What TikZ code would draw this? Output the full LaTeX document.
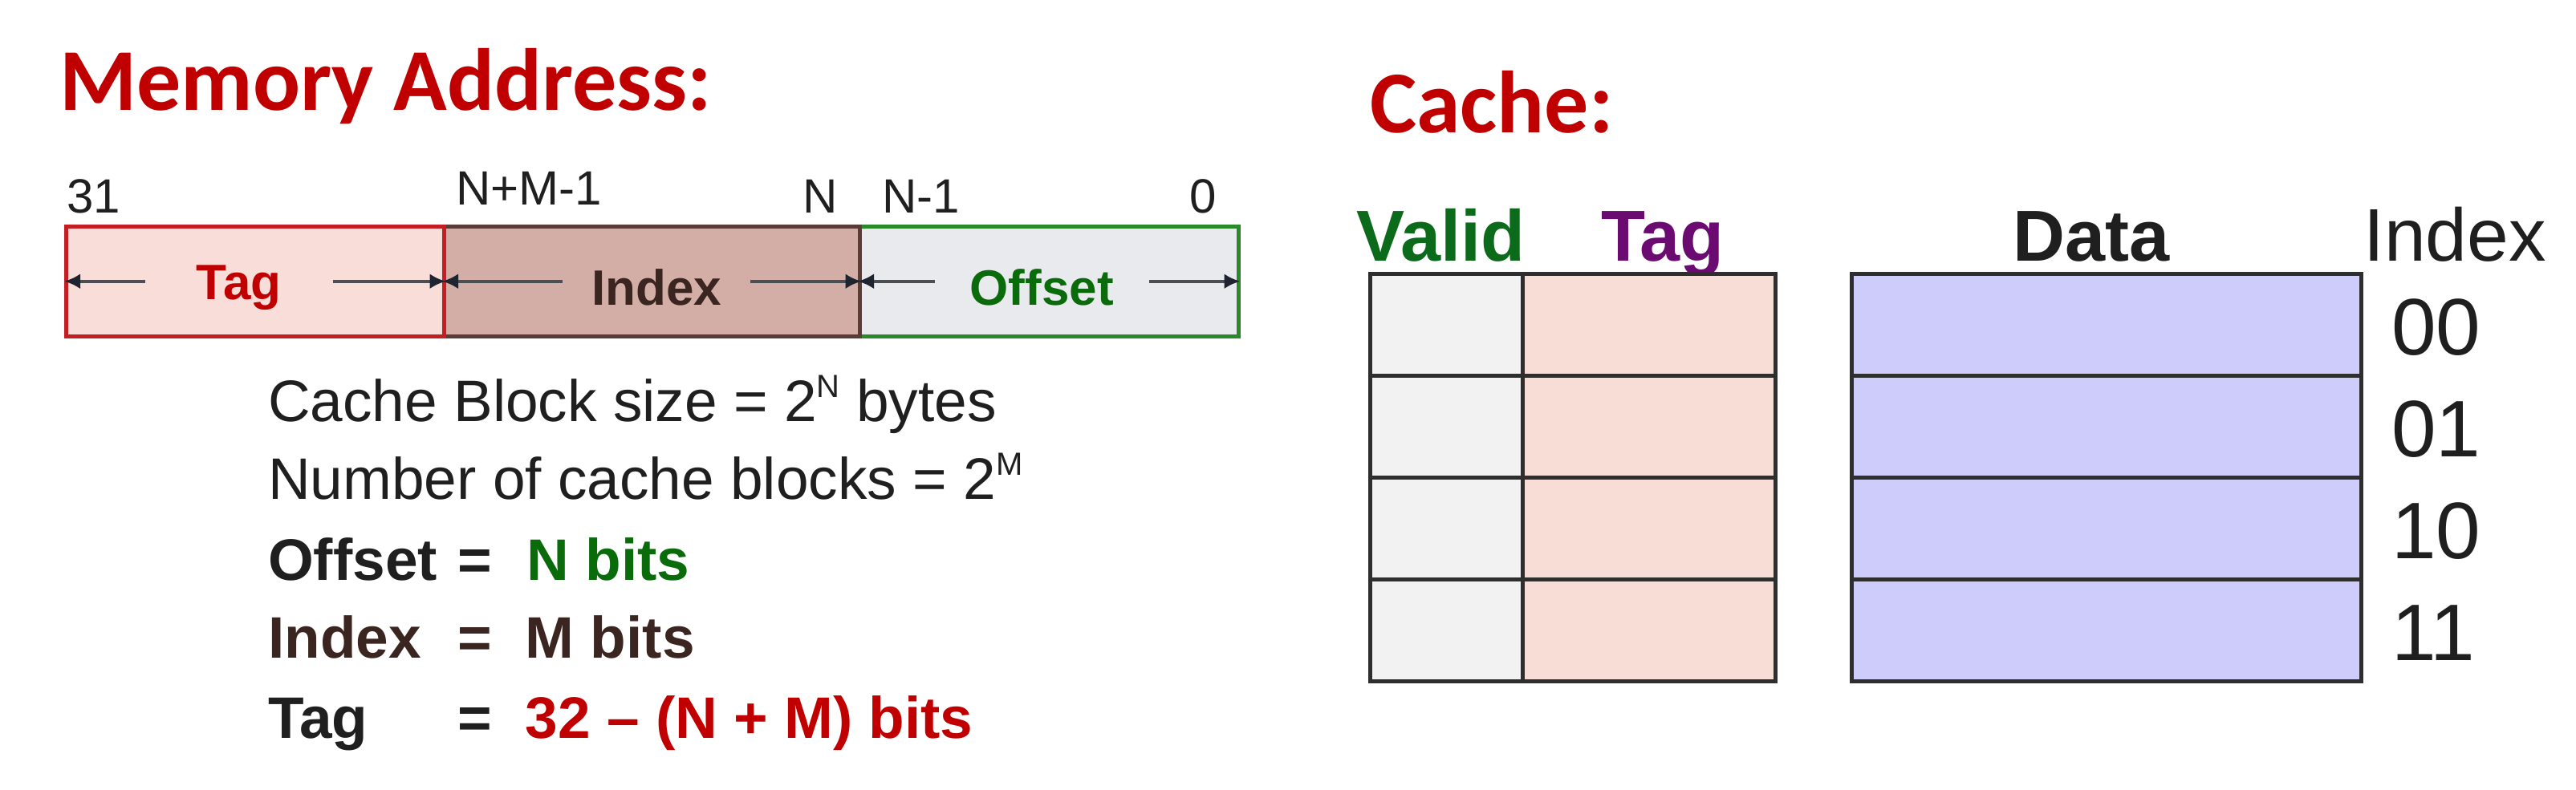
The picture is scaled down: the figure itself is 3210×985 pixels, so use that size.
\documentclass[tikz,border=0pt]{standalone}
\usepackage{fontspec}
\setmainfont{Liberation Sans}
\newfontfamily\headfont{Carlito}
\usetikzlibrary{arrows.meta}

\definecolor{hdred}{HTML}{C00000}
\definecolor{tagfill}{HTML}{F8DDD8}
\definecolor{tagline}{HTML}{C41E24}
\definecolor{indexfill}{HTML}{D3AEA7}
\definecolor{indexline}{HTML}{5A3B36}
\definecolor{offfill}{HTML}{E9EAEE}
\definecolor{offline}{HTML}{2A8A2A}
\definecolor{labbrown}{HTML}{3B2521}
\definecolor{labgreen}{HTML}{0A6B0A}
\definecolor{arrowgray}{HTML}{4A4E55}
\definecolor{tipdark}{HTML}{1E2430}
\definecolor{textdark}{HTML}{1F1F1F}
\definecolor{validfill}{HTML}{F2F2F2}
\definecolor{tagcell}{HTML}{F8DCD6}
\definecolor{datafill}{HTML}{CDCCFA}
\definecolor{validgreen}{HTML}{0B6B1A}
\definecolor{tagpurple}{HTML}{6B0A70}
\definecolor{gridline}{HTML}{2E2E2E}

\newcommand\fsz[1]{\fontsize{#1}{#1}\selectfont}
\newcommand\bitsup[1]{\raisebox{0.40em}{\fsz{40}#1}}

\tikzset{
  heading/.style={anchor=base west, inner sep=0pt, text=hdred, font=\headfont\bfseries\fsz{110}},
  bitno/.style={anchor=base west, inner sep=0pt, text=textdark, font=\fsz{60}},
  field/.style={line width=4.5pt, minimum height=137pt, anchor=north west, inner sep=0pt},
  flabel/.style={inner xsep=44pt, inner ysep=0pt, font=\bfseries\fsz{62}},
  dimarrow/.style={draw=arrowgray, line width=4.5pt, -{Latex[length=20pt,width=19pt,color=tipdark]}},
  note/.style={anchor=base west, inner sep=0pt, text=textdark, font=\fsz{73}},
  cell/.style={draw=gridline, line width=4.5pt, minimum height=127pt, anchor=north west, inner sep=0pt},
  colhead/.style={anchor=base west, inner sep=0pt, font=\bfseries\fsz{90}},
  idxnum/.style={anchor=base west, inner sep=0pt, text=textdark, font=\fsz{100}}
}

\begin{document}
\begin{tikzpicture}[x=1pt,y=-1pt]
    \path[fill=white,use as bounding box] (0,0) rectangle (3210,985);

    % memory address
    \node[heading] (memhd) at (74,137) {Memory Address:};
    \node[bitno] (b31) at (83,265) {31};
    \node[bitno] (bnm) at (568,255) {N+M-1};
    \node[bitno] (bn) at (1000,265) {N};
    \node[bitno] (bn1) at (1099,265) {N-1};
    \node[bitno] (b0) at (1482,265) {0};

    \node[field, fill=offfill, draw=offline, minimum width=472pt] (offf) at (1069,280) {};
    \node[field, fill=indexfill, draw=indexline, minimum width=518pt] (idxf) at (551,280) {};
    \node[field, fill=tagfill, draw=tagline, minimum width=471pt] (tagf) at (80,280) {};

    \node[flabel, text=hdred, inner xsep=64pt] (tagl) at ([xshift=-20pt,yshift=-8pt]tagf.center) {Tag};
    \node[flabel, text=labbrown, inner xsep=36pt] (idxl) at ([xshift=6pt,yshift=-8pt]idxf.center) {Index};
    \node[flabel, text=labgreen] (offl) at ([xshift=-9pt,yshift=-8pt]offf.center) {Offset};

    \draw[dimarrow] (tagl.west |- tagf.center) -- (tagf.west);
    \draw[dimarrow] (tagl.east |- tagf.center) -- (tagf.east);
    \draw[dimarrow] (idxl.west |- idxf.center) -- (idxf.west);
    \draw[dimarrow] (idxl.east |- idxf.center) -- (idxf.east);
    \draw[dimarrow] (offl.west |- offf.center) -- (offf.west);
    \draw[dimarrow] (offl.east |- offf.center) -- (offf.east);

    \node[note] (l1) at (334,525) {Cache Block size = 2\bitsup{N} bytes};
    \node[note] (l2) at (334,622) {Number of cache blocks = 2\bitsup{M}};
    \node[note, font=\bfseries\fsz{73}] (l3) at (334,723)
        {\makebox[236pt][l]{Offset}=\hspace{44pt}\textcolor{labgreen}{N bits}};
    \node[note, font=\bfseries\fsz{73}, text=labbrown] (l4) at (334,820)
        {\makebox[236pt][l]{Index}=\hspace{42pt}M bits};
    \node[note, font=\bfseries\fsz{73}] (l5) at (334,920)
        {\makebox[236pt][l]{Tag}=\hspace{42pt}\textcolor{hdred}{32 -- (N + M) bits}};

    % cache
    \node[heading] (cachehd) at (1707,165) {Cache:};
    \node[colhead, text=validgreen] (hvalid) at (1690,325) {Valid};
    \node[colhead, text=tagpurple] (htag) at (1995,325) {Tag};
    \node[colhead, text=textdark] (hdata) at (2508,325) {Data};
    \node[colhead, text=textdark, font=\fsz{93}] (hindex) at (2945,325) {Index};

    \foreach \r/\bits in {0/00,1/01,2/10,3/11} {
        \node[cell, fill=validfill, minimum width=190pt] (v\r) at (1705,{339+127*\r}) {};
        \node[cell, fill=tagcell, minimum width=315pt] (t\r) at (1895,{339+127*\r}) {};
        \node[cell, fill=datafill, minimum width=635pt] (d\r) at (2305,{339+127*\r}) {};
        \node[idxnum] (i\r) at (2980,{442+127*\r}) {\bits};
    }
\end{tikzpicture}
\end{document}
